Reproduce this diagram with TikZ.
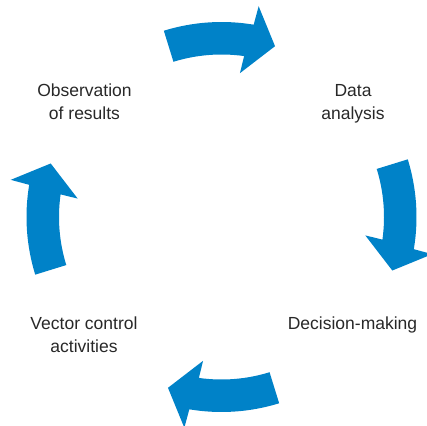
\documentclass[tikz,border=0pt]{standalone}
\usepackage{fontspec}
\setmainfont{Liberation Sans}
\definecolor{cycleblue}{RGB}{0,130,200}
\definecolor{labelgray}{RGB}{40,40,40}
\tikzset{
  cyclearrow/.style={fill=cycleblue, draw=none},
  label/.style={inner sep=0pt, anchor=base, align=center, text=labelgray,
    font=\fontsize{17.5pt}{23pt}\selectfont}
}
\newcommand{\cyclearrowpath}[1]{%
  \fill[cyclearrow, rotate=#1]
    (107.2:195pt) arc[start angle=107.2, end angle=80.5, radius=195pt]
    -- (80:214pt) -- (72.6:179pt) -- (82.7:145pt) -- (82:162.5pt)
    arc[start angle=82, end angle=107.2, radius=162.5pt] -- cycle;}
\begin{document}
\begin{tikzpicture}
\useasboundingbox[fill=white] (-221.5pt,-208pt) rectangle (205.5pt,217pt);
\cyclearrowpath{0}
\cyclearrowpath{-90}
\cyclearrowpath{180}
\cyclearrowpath{90}
\node[label] (obs) at (-137pt,97pt) {Observation\\of results};
\node[label] (data) at (131.5pt,97pt) {Data\\analysis};
\node[label] (dec) at (131pt,-112.5pt) {Decision-making};
\node[label] (vec) at (-137.5pt,-135.5pt) {Vector control\\activities};
\end{tikzpicture}
\end{document}
